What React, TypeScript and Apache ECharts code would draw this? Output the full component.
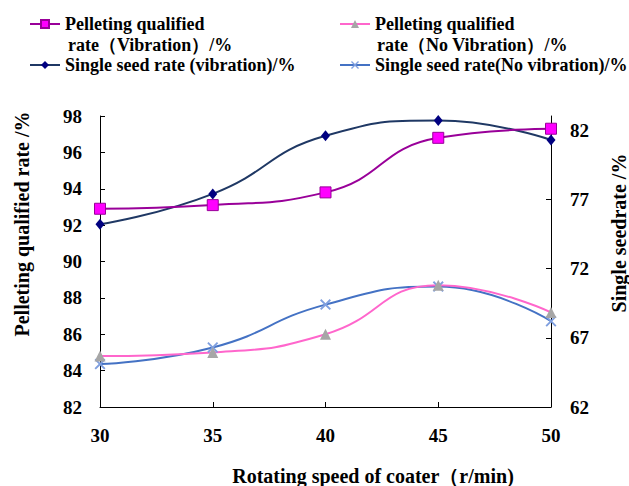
import React, { useEffect, useRef } from "react";
import * as echarts from "echarts";

const speeds = [30, 35, 40, 45, 50];
const pelletVib = [92.9, 93.1, 93.8, 96.8, 97.3];
const pelletNoVib = [84.8, 85.0, 86.0, 88.7, 87.2];
const seedVib = [75.2, 77.4, 81.6, 82.7, 81.3];
const seedNoVib = [65.1, 66.3, 69.4, 70.7, 68.2];
const rightTicks = [62, 67, 72, 77, 82];

const N1 = "Pelleting qualified rate（Vibration）/%";
const N2 = "Pelleting qualified rate（No Vibration）/%";
const N3 = "Single seed rate (vibration)/%";
const N4 = "Single seed rate(No vibration)/%";

const FONT = "'Liberation Serif', 'Times New Roman', serif";
const X_SYMBOL =
  "path://M0,1.2L1.2,0L5,3.8L8.8,0L10,1.2L6.2,5L10,8.8L8.8,10L5,6.2L1.2,10L0,8.8L3.8,5Z";

const pairs = (ys: number[]) => speeds.map((x, i) => [x, ys[i]]);

export default function App() {
  const ref = useRef<HTMLDivElement>(null);
  useEffect(() => {
    if (!ref.current) return;
    const chart = echarts.init(ref.current, undefined, { renderer: "svg" });
    const txt = { fontFamily: FONT, fontWeight: "bold" as const, fontSize: 19, color: "#000" };
    const legendCommon = {
      itemWidth: 30,
      itemHeight: 10,
      itemGap: 0,
      padding: 0,
      textStyle: { fontFamily: FONT, fontWeight: "bold" as const, fontSize: 18, color: "#000" },
    };
    chart.setOption({
      animation: false,
      backgroundColor: "#fff",
      grid: { left: 100, right: 78, top: 116, bottom: 79, containLabel: false },
      legend: [
        { ...legendCommon, data: [N1], left: 29, top: 15, formatter: () => "Pelleting qualified" },
        { ...legendCommon, data: [N2], left: 339, top: 15, formatter: () => "Pelleting qualified" },
        { ...legendCommon, data: [N3], left: 29, top: 56 },
        { ...legendCommon, data: [N4], left: 339, top: 56 },
      ],
      xAxis: {
        type: "value",
        min: 30,
        max: 50,
        interval: 5,
        axisLine: { show: true, lineStyle: { color: "#000", width: 1 } },
        axisTick: { show: true, inside: true, length: 5, lineStyle: { color: "#000" } },
        axisLabel: { ...txt, margin: 19 },
        splitLine: { show: false },
      },
      yAxis: [
        {
          type: "value",
          min: 82,
          max: 98,
          interval: 2,
          position: "left",
          axisLine: { show: true, lineStyle: { color: "#000", width: 1 } },
          axisTick: { show: true, inside: true, length: 5, lineStyle: { color: "#000" } },
          axisLabel: { ...txt, margin: 18 },
          splitLine: { show: false },
        },
        {
          type: "value",
          min: 62,
          max: 83.03,
          position: "right",
          axisLine: { show: true, lineStyle: { color: "#000", width: 1 } },
          axisTick: { show: true, inside: true, length: 5, customValues: rightTicks, lineStyle: { color: "#000" } },
          axisLabel: { ...txt, margin: 19, customValues: rightTicks },
          splitLine: { show: false },
        },
      ],
      graphic: [
        { type: "text", x: 68, y: 45, style: { text: "rate（Vibration）/%", ...txt, fontSize: 18, fill: "#000", textVerticalAlign: "middle" } },
        { type: "text", x: 377, y: 45, style: { text: "rate（No Vibration）/%", ...txt, fontSize: 18, fill: "#000", textVerticalAlign: "middle" } },
        {
          type: "text",
          x: 22,
          y: 224,
          rotation: Math.PI / 2,
          style: { text: "Pelleting qualified rate /%", ...txt, fontSize: 20, fill: "#000", textAlign: "center", textVerticalAlign: "middle" },
        },
        {
          type: "text",
          x: 619,
          y: 233,
          rotation: Math.PI / 2,
          style: { text: "Single seedrate /%", ...txt, fontSize: 20, fill: "#000", textAlign: "center", textVerticalAlign: "middle" },
        },
        {
          type: "text",
          x: 373,
          y: 476,
          style: { text: "Rotating speed of coater（r/min)", ...txt, fontSize: 20, fill: "#000", textAlign: "center", textVerticalAlign: "middle" },
        },
      ],
      series: [
        {
          name: N3,
          type: "line",
          yAxisIndex: 1,
          smooth: true,
          data: pairs(seedVib),
          symbol: "diamond",
          symbolSize: [9, 11],
          lineStyle: { color: "#1F3864", width: 2 },
          itemStyle: { color: "#000080" },
        },
        {
          name: N1,
          type: "line",
          yAxisIndex: 0,
          smooth: true,
          data: pairs(pelletVib),
          symbol: "rect",
          symbolSize: 11,
          lineStyle: { color: "#990099", width: 2 },
          itemStyle: { color: "#FF00FF", borderColor: "#990099", borderWidth: 1 },
        },
        {
          name: N4,
          type: "line",
          yAxisIndex: 1,
          smooth: true,
          data: pairs(seedNoVib),
          symbol: X_SYMBOL,
          symbolSize: 11,
          lineStyle: { color: "#4472C4", width: 2 },
          itemStyle: { color: "#7F9FDF" },
        },
        {
          name: N2,
          type: "line",
          yAxisIndex: 0,
          smooth: true,
          data: pairs(pelletNoVib),
          symbol: "triangle",
          symbolSize: 11,
          lineStyle: { color: "#FF66CC", width: 2 },
          itemStyle: { color: "#A6A6A6" },
        },
      ],
    });
    return () => chart.dispose();
  }, []);
  return (
    <div
      ref={ref}
      style={{ position: "fixed", left: 0, top: 0, width: 629, height: 486, background: "#fff" }}
    />
  );
}
